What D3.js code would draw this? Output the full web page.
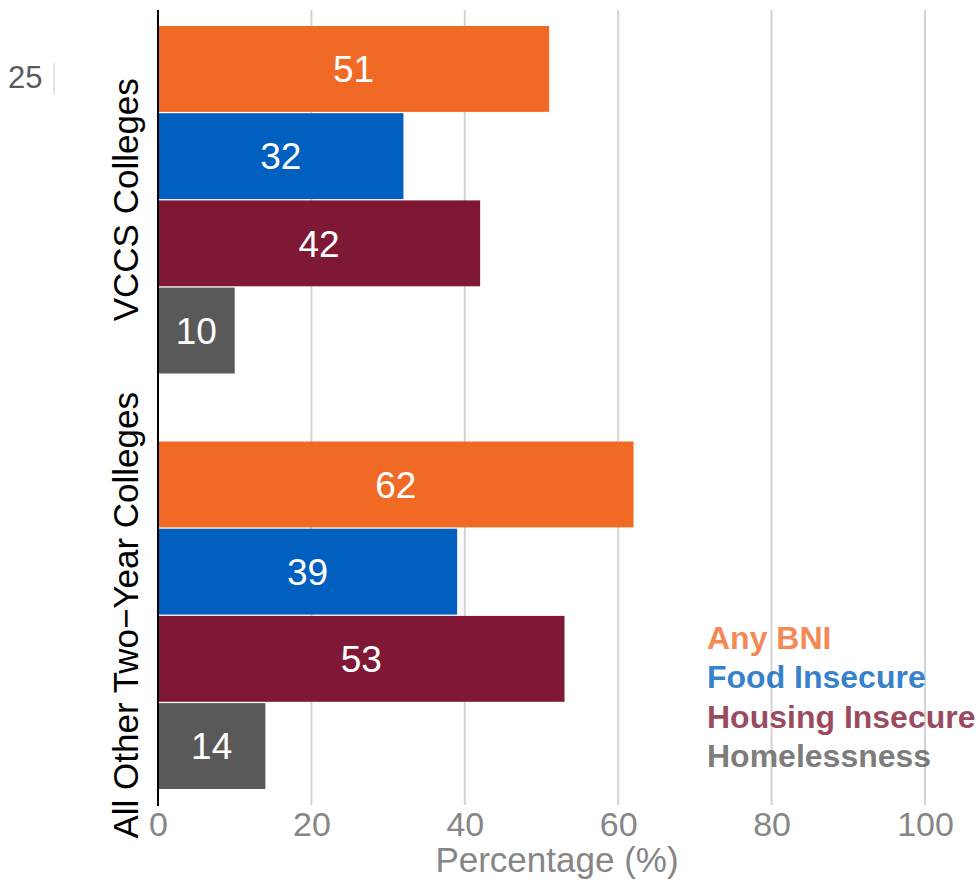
<!DOCTYPE html>
<html>
<head>
<meta charset="utf-8">
<script src="https://cdn.jsdelivr.net/npm/d3@7"></script>
<style>
  html, body { margin: 0; padding: 0; background: #fff; }
  svg { display: block; font-family: "Liberation Sans", Arial, Helvetica, sans-serif; }
</style>
</head>
<body>
<svg id="chart" width="976" height="882"></svg>
<script>
const groups = ["VCCS Colleges", "All Other Two\u2212Year Colleges"];
const series = ["Any BNI", "Food Insecure", "Housing Insecure", "Homelessness"];
const vccsValues = [51, 32, 42, 10];
const otherValues = [62, 39, 53, 14];
const seriesColors = ["#F06A26", "#005FBF", "#7F1835", "#595959"];
const xTicks = [0, 20, 40, 60, 80, 100];
const xTitle = "Percentage (%)";
const strayLabel = "25";

const valuesByGroup = [vccsValues, otherValues];
const data = [];
groups.forEach((g, gi) => series.forEach((s, si) => data.push({group: g, series: s, value: valuesByGroup[gi][si]})));

const svg = d3.select("#chart");
const plotLeft = 158, plotRight = 925, plotTop = 10, plotBottom = 805;

const x = d3.scaleLinear().domain([0, 100]).range([plotLeft, plotRight]);
const y0 = d3.scaleBand().domain(groups).range([plotTop, plotBottom]).paddingInner(0.1637).paddingOuter(0.0385);
const y1 = d3.scaleBand().domain(series).range([0, y0.bandwidth()]).paddingInner(0.015).paddingOuter(0);
const color = d3.scaleOrdinal().domain(series).range(seriesColors);

// grid
svg.append("g").selectAll("line").data(xTicks.filter(d => d > 0)).join("line")
  .attr("x1", d => x(d)).attr("x2", d => x(d))
  .attr("y1", plotTop).attr("y2", plotBottom)
  .attr("stroke", "#d3d3d3").attr("stroke-width", 2);

// bars
const bars = svg.append("g");
bars.selectAll("rect").data(data).join("rect")
  .attr("x", x(0) + 1)
  .attr("y", d => y0(d.group) + y1(d.series))
  .attr("width", d => x(d.value) - x(0) - 1)
  .attr("height", y1.bandwidth())
  .attr("fill", d => color(d.series));

bars.selectAll("text").data(data).join("text")
  .attr("x", d => (x(0) + x(d.value)) / 2)
  .attr("y", d => y0(d.group) + y1(d.series) + y1.bandwidth() / 2)
  .attr("dy", "0.36em")
  .attr("text-anchor", "middle")
  .attr("fill", "#fff")
  .attr("font-size", 37)
  .text(d => d.value);

// x axis ticks
const xAxis = d3.axisBottom(x).tickValues(xTicks).tickSize(0).tickPadding(0);
const gx = svg.append("g").attr("transform", `translate(0,${plotBottom})`).call(xAxis);
gx.select(".domain").remove();
gx.selectAll("text")
  .attr("y", 31).attr("dy", 0)
  .attr("font-size", 34)
  .attr("font-family", "Liberation Sans, Arial, sans-serif")
  .attr("fill", "#868686");

svg.append("text")
  .attr("x", (plotLeft + 956) / 2).attr("y", 872)
  .attr("text-anchor", "middle")
  .attr("font-size", 35)
  .attr("fill", "#868686")
  .text(xTitle);

// y axis line
svg.append("line")
  .attr("x1", plotLeft).attr("x2", plotLeft)
  .attr("y1", plotTop).attr("y2", plotBottom + 1)
  .attr("stroke", "#000").attr("stroke-width", 2);

// group labels
svg.append("g").selectAll("text").data(groups).join("text")
  .attr("transform", d => `translate(138,${y0(d) + y0.bandwidth() / 2}) rotate(-90)`)
  .attr("text-anchor", "middle")
  .attr("font-size", 35)
  .attr("fill", "#000")
  .text(d => d);

// legend
svg.append("g").selectAll("text").data(series).join("text")
  .attr("x", 707)
  .attr("y", (d, i) => 649 + i * 39.3)
  .attr("font-size", 32)
  .attr("font-weight", "bold")
  .attr("fill", d => color(d))
  .attr("fill-opacity", 0.8)
  .text(d => d);

// stray label at top-left
svg.append("text")
  .attr("x", 8).attr("y", 88)
  .attr("font-size", 31)
  .attr("fill", "#5a5a5a")
  .text(strayLabel);
svg.append("line")
  .attr("x1", 54).attr("x2", 54).attr("y1", 63).attr("y2", 95)
  .attr("stroke", "#cccccc").attr("stroke-width", 1);
</script>
</body>
</html>
